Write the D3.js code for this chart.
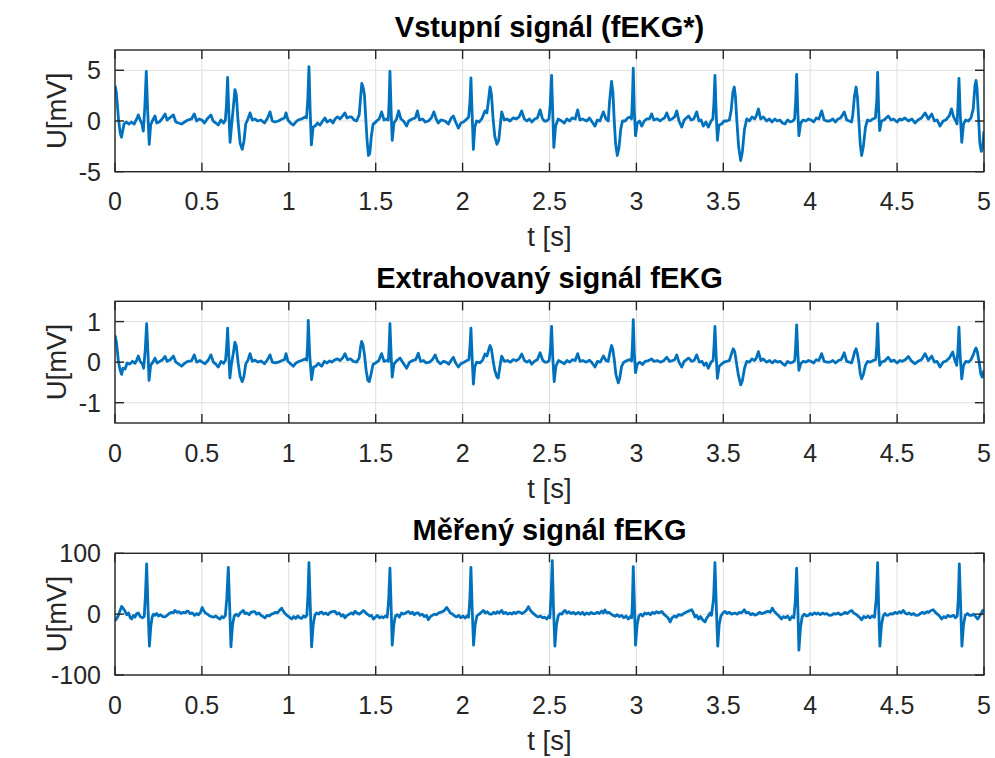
<!DOCTYPE html>
<html>
<head>
<meta charset="utf-8">
<script src="https://cdn.jsdelivr.net/npm/d3@7"></script>
<style>
  body { margin: 0; background: #fff; }
  text { font-family: "Liberation Sans", Arial, sans-serif; }
</style>
</head>
<body>
<svg id="chart" width="995" height="758"></svg>
<script>
// time axis (s)
var timeTicks = [0, 0.5, 1, 1.5, 2, 2.5, 3, 3.5, 4, 4.5, 5];

// input signal fEKG* [t (s), U (mV)]
var inputSignal = [
  [0, 3.5], [0.008, 2.8], [0.02, 0.2], [0.03, -1.2], [0.037, -1.6], [0.045, -0.9], [0.052, -0.3], [0.065, -0.1], [0.08, -0.3], [0.095, -0.1],
  [0.11, -0.3], [0.125, 0.2], [0.134, 0.6], [0.145, 0.1], [0.155, -0.3], [0.163, -1.0], [0.172, 1.5], [0.180, 4.9], [0.188, 1.0], [0.197, -2.3],
  [0.205, -0.4], [0.215, 0.0], [0.23, 0.5], [0.24, -0.2], [0.255, -0.1], [0.27, 0.2], [0.288, 0.7], [0.3, 0.1], [0.315, 0.3], [0.336, 0.6],
  [0.35, -0.1], [0.365, -0.2], [0.383, -0.3], [0.4, -0.1], [0.42, 0.1], [0.44, 0.2], [0.456, 0.7], [0.47, 0.0], [0.485, 0.2], [0.5, 0.1],
  [0.515, -0.2], [0.53, 0.2], [0.552, 0.6], [0.565, 0.0], [0.58, -0.2], [0.594, -0.4], [0.61, 0.1], [0.625, -0.2], [0.635, 0.1], [0.641, 1.5],
  [0.648, 4.3], [0.655, 0.8], [0.662, -2.1], [0.672, -0.2], [0.68, 1.2], [0.69, 3.1], [0.698, 2.6], [0.708, 0.0], [0.72, -2.2], [0.732, -2.8],
  [0.742, -2.0], [0.752, -0.3], [0.765, 0.2], [0.777, 0.8], [0.79, 0.1], [0.805, 0.2], [0.82, 0.0], [0.84, 0.1], [0.86, -0.2], [0.878, 0.3],
  [0.892, 0.9], [0.905, 0.0], [0.92, -0.1], [0.94, 0.0], [0.96, 0.2], [0.975, 0.3], [0.984, 0.8], [0.995, 0.1], [1.01, -0.2], [1.026, -0.4],
  [1.04, -0.1], [1.055, 0.1], [1.074, 0.2], [1.093, 0.4], [1.102, 0.3], [1.109, 2.0], [1.116, 5.35], [1.123, 1.0], [1.13, -2.35], [1.14, -0.6],
  [1.151, -0.5], [1.165, -0.2], [1.18, -0.4], [1.195, 0.0], [1.208, 0.3], [1.22, -0.1], [1.24, 0.1], [1.255, -0.2], [1.266, 0.2], [1.28, 0.4],
  [1.295, 0.2], [1.31, 0.5], [1.323, 0.8], [1.335, 0.3], [1.35, 0.4], [1.361, 0.4], [1.375, 0.1], [1.39, 0.0], [1.405, 0.6], [1.414, 2.5],
  [1.42, 3.7], [1.428, 3.3], [1.435, 2.6], [1.442, 0.5], [1.45, -1.8], [1.458, -3.4], [1.466, -3.2], [1.475, -1.5], [1.485, -0.3], [1.495, -0.2],
  [1.505, 0.0], [1.52, 0.2], [1.534, 0.9], [1.548, 0.1], [1.563, 0.2], [1.572, 0.1], [1.577, 1.8], [1.582, 4.9], [1.589, 0.8], [1.595, -1.9],
  [1.605, -0.2], [1.62, 0.2], [1.632, 1.0], [1.645, 0.2], [1.66, 0.0], [1.678, -0.5], [1.69, 0.0], [1.71, 0.2], [1.728, 0.3], [1.74, 1.0],
  [1.752, 0.1], [1.77, 0.2], [1.785, -0.1], [1.803, 0.0], [1.82, 0.3], [1.835, 0.9], [1.848, 0.2], [1.86, -0.2], [1.875, 0.1], [1.899, 0.0],
  [1.918, -0.3], [1.935, 0.3], [1.947, 0.5], [1.96, -0.1], [1.976, -0.7], [1.99, -0.2], [2.005, -0.1], [2.024, 0.2], [2.035, 0.4], [2.042, 1.8],
  [2.048, 4.25], [2.055, 0.6], [2.062, -2.8], [2.07, -0.6], [2.081, 0.0], [2.095, -0.1], [2.11, 0.2], [2.129, 1.0], [2.14, 0.8], [2.15, 2.2],
  [2.158, 3.35], [2.166, 2.6], [2.175, 0.3], [2.185, -1.5], [2.198, -2.3], [2.208, -1.9], [2.218, -0.2], [2.225, 0.9], [2.24, 0.1], [2.255, 0.2],
  [2.273, 0.0], [2.29, 0.3], [2.31, 0.2], [2.325, 0.4], [2.34, 1.0], [2.355, 0.2], [2.37, 0.0], [2.385, 0.2], [2.398, -0.1], [2.415, 0.2],
  [2.43, 0.3], [2.446, 1.1], [2.458, 0.3], [2.47, 0.0], [2.484, 0.0], [2.497, 0.2], [2.505, 1.8], [2.512, 4.5], [2.519, 0.6], [2.525, -2.6],
  [2.535, -0.5], [2.55, 0.2], [2.57, 0.0], [2.585, -0.2], [2.6, 0.2], [2.615, 0.0], [2.63, 0.3], [2.648, 0.2], [2.662, 1.1], [2.675, 0.1],
  [2.69, 0.2], [2.714, 0.0], [2.73, 0.3], [2.745, -0.1], [2.762, -0.5], [2.775, 0.1], [2.79, 0.0], [2.81, 0.9], [2.825, 0.2], [2.838, 0.0],
  [2.845, 1.8], [2.857, 3.9], [2.865, 2.8], [2.872, 0.2], [2.88, -2.2], [2.89, -3.4], [2.9, -2.6], [2.91, -0.8], [2.92, 0.0], [2.935, 0.0],
  [2.95, 0.3], [2.963, 0.4], [2.972, 0.2], [2.977, 2.2], [2.982, 5.2], [2.988, 1.0], [2.995, -1.45], [3.005, -0.2], [3.018, 0.0], [3.031, -0.5],
  [3.045, 0.0], [3.06, 0.2], [3.075, 0.2], [3.088, 0.7], [3.1, 0.1], [3.12, 0.2], [3.136, 0.0], [3.15, 0.2], [3.162, 0.3], [3.175, 0.8],
  [3.19, 0.1], [3.205, 0.2], [3.22, 0.4], [3.232, 1.0], [3.245, 0.0], [3.261, -0.6], [3.275, 0.1], [3.3, 0.5], [3.315, 0.1], [3.33, 0.2],
  [3.347, 0.9], [3.36, 0.0], [3.372, 0.1], [3.385, -0.5], [3.4, -0.1], [3.414, -0.6], [3.43, 0.0], [3.44, 0.2], [3.446, 1.8], [3.452, 4.5],
  [3.459, 0.8], [3.466, -1.9], [3.475, -0.4], [3.49, -0.3], [3.505, 0.0], [3.52, 0.0], [3.535, 0.1], [3.545, 1.0], [3.555, 2.8], [3.563, 3.35],
  [3.57, 2.4], [3.578, 0.0], [3.588, -2.5], [3.6, -3.9], [3.61, -3.0], [3.622, -0.8], [3.635, 0.2], [3.65, 0.0], [3.665, 0.4], [3.68, 0.2],
  [3.69, 0.5], [3.702, 1.2], [3.715, 0.2], [3.73, 0.4], [3.75, 0.0], [3.765, 0.2], [3.78, -0.1], [3.797, 0.2], [3.81, 0.0], [3.825, 0.1],
  [3.84, -0.2], [3.855, -0.3], [3.87, 0.1], [3.885, -0.1], [3.9, 0.0], [3.91, 0.2], [3.916, 1.8], [3.922, 4.6], [3.929, 0.8], [3.935, -1.45],
  [3.945, -0.2], [3.96, 0.1], [3.975, 0.0], [3.989, 0.2], [4.005, 0.1], [4.02, -0.1], [4.035, 0.3], [4.05, 0.2], [4.066, 1.0], [4.08, 0.1],
  [4.095, 0.0], [4.114, 0.0], [4.13, 0.2], [4.145, -0.1], [4.16, 0.2], [4.175, 0.3], [4.196, 0.9], [4.21, 0.1], [4.225, 0.0], [4.238, -0.1],
  [4.245, 0.6], [4.255, 2.5], [4.264, 3.35], [4.272, 2.3], [4.28, 0.0], [4.288, -2.3], [4.296, -3.4], [4.306, -2.5], [4.318, -0.6], [4.33, 0.1],
  [4.345, 0.0], [4.36, 0.2], [4.375, 0.3], [4.383, 2.0], [4.388, 4.8], [4.394, 1.0], [4.4, -0.95], [4.41, 0.0], [4.425, 0.1], [4.449, 0.5],
  [4.465, 0.1], [4.48, 0.2], [4.5, -0.1], [4.515, 0.2], [4.526, 0.1], [4.545, 0.3], [4.565, 0.0], [4.585, 0.2], [4.603, -0.2], [4.62, 0.1],
  [4.64, 0.3], [4.661, 0.8], [4.68, 0.2], [4.699, 0.7], [4.715, 0.0], [4.73, 0.1], [4.747, -0.5], [4.765, 0.0], [4.78, 0.1], [4.8, 0.5],
  [4.813, 1.2], [4.825, 0.4], [4.838, 0.0], [4.845, -0.3], [4.85, 1.5], [4.856, 4.2], [4.863, 0.8], [4.872, -2.1], [4.882, -0.3], [4.895, 0.1],
  [4.91, 0.0], [4.925, 0.3], [4.938, 1.2], [4.948, 3.5], [4.954, 4.0], [4.96, 3.2], [4.968, 0.5], [4.976, -2.2], [4.985, -3.0], [4.992, -2.6],
  [5.0, -1.0]
];

// extracted fEKG [t (s), U (mV)]
var extractedSignal = [
  [0, 0.66], [0.008, 0.5], [0.02, 0.0], [0.03, -0.2], [0.038, -0.3], [0.046, -0.15], [0.058, -0.17], [0.07, -0.02], [0.085, -0.05], [0.1, 0.02],
  [0.115, -0.03], [0.125, 0.05], [0.134, 0.15], [0.145, 0.02], [0.158, -0.05], [0.165, -0.15], [0.174, 0.3], [0.182, 0.95], [0.19, 0.2], [0.196, -0.45],
  [0.205, -0.08], [0.218, 0.0], [0.23, 0.1], [0.242, -0.02], [0.258, 0.02], [0.272, 0.05], [0.288, 0.14], [0.3, 0.02], [0.318, 0.06], [0.336, 0.15],
  [0.35, 0.0], [0.367, -0.05], [0.383, -0.1], [0.4, -0.03], [0.418, 0.02], [0.44, 0.03], [0.456, 0.18], [0.47, 0.0], [0.488, 0.04], [0.502, 0.0],
  [0.518, -0.04], [0.535, 0.04], [0.552, 0.18], [0.566, 0.0], [0.58, -0.05], [0.594, -0.12], [0.61, 0.02], [0.625, -0.03], [0.636, 0.05], [0.642, 0.35],
  [0.648, 0.84], [0.655, 0.15], [0.661, -0.39], [0.67, -0.05], [0.68, 0.2], [0.69, 0.49], [0.698, 0.4], [0.708, 0.0], [0.72, -0.35], [0.732, -0.48],
  [0.742, -0.35], [0.752, -0.05], [0.765, 0.05], [0.777, 0.21], [0.79, 0.02], [0.805, 0.05], [0.822, 0.0], [0.84, 0.03], [0.86, -0.04], [0.877, 0.06],
  [0.892, 0.18], [0.905, 0.0], [0.922, -0.02], [0.94, 0.0], [0.96, 0.04], [0.975, 0.06], [0.984, 0.21], [0.995, 0.02], [1.01, -0.04], [1.026, -0.1],
  [1.042, -0.02], [1.058, 0.02], [1.074, 0.04], [1.093, 0.08], [1.103, 0.05], [1.108, 0.4], [1.112, 1.03], [1.12, 0.2], [1.131, -0.43], [1.142, -0.12],
  [1.155, -0.1], [1.17, -0.03], [1.189, -0.1], [1.205, 0.02], [1.22, -0.02], [1.235, 0.03], [1.247, 0.0], [1.262, 0.05], [1.28, 0.08], [1.295, 0.04],
  [1.31, 0.1], [1.323, 0.21], [1.338, 0.06], [1.355, 0.08], [1.372, 0.02], [1.39, 0.0], [1.405, 0.1], [1.413, 0.38], [1.419, 0.51], [1.427, 0.42],
  [1.435, 0.2], [1.445, -0.2], [1.455, -0.45], [1.463, -0.48], [1.473, -0.3], [1.485, -0.05], [1.5, -0.02], [1.518, 0.04], [1.534, 0.21], [1.548, 0.02],
  [1.563, 0.04], [1.573, 0.02], [1.577, 0.35], [1.582, 0.95], [1.589, 0.15], [1.595, -0.37], [1.605, -0.05], [1.62, 0.03], [1.64, 0.1], [1.655, 0.0],
  [1.678, -0.15], [1.695, 0.0], [1.712, 0.04], [1.73, 0.06], [1.745, 0.22], [1.758, 0.02], [1.775, 0.04], [1.79, -0.02], [1.81, 0.0], [1.826, 0.06],
  [1.842, 0.18], [1.856, 0.03], [1.872, -0.04], [1.89, 0.02], [1.905, 0.0], [1.92, -0.05], [1.935, 0.05], [1.947, 0.12], [1.96, -0.02], [1.976, -0.12],
  [1.99, -0.04], [2.008, 0.0], [2.025, 0.04], [2.036, 0.06], [2.042, 0.35], [2.048, 0.84], [2.055, 0.1], [2.062, -0.54], [2.07, -0.12], [2.081, 0.0],
  [2.1, -0.02], [2.115, 0.05], [2.129, 0.2], [2.14, 0.15], [2.15, 0.3], [2.158, 0.41], [2.166, 0.32], [2.175, 0.05], [2.185, -0.2], [2.198, -0.37],
  [2.205, -0.39], [2.215, -0.1], [2.225, 0.15], [2.24, 0.02], [2.258, 0.04], [2.275, 0.0], [2.29, 0.06], [2.31, 0.04], [2.325, 0.08], [2.34, 0.2],
  [2.356, 0.04], [2.37, 0.0], [2.385, 0.04], [2.398, -0.05], [2.415, 0.03], [2.43, 0.06], [2.446, 0.23], [2.46, 0.06], [2.472, 0.0], [2.486, 0.0],
  [2.498, 0.04], [2.506, 0.35], [2.512, 0.88], [2.519, 0.1], [2.527, -0.48], [2.537, -0.1], [2.552, 0.04], [2.57, 0.0], [2.585, -0.04], [2.6, 0.04],
  [2.616, 0.0], [2.632, 0.06], [2.648, 0.04], [2.662, 0.21], [2.676, 0.02], [2.692, 0.04], [2.712, 0.0], [2.73, 0.05], [2.745, -0.02], [2.762, -0.12],
  [2.776, 0.02], [2.792, 0.0], [2.81, 0.15], [2.825, 0.04], [2.838, 0.02], [2.848, 0.25], [2.857, 0.41], [2.865, 0.3], [2.873, 0.05], [2.882, -0.3],
  [2.896, -0.51], [2.905, -0.38], [2.915, -0.1], [2.928, 0.0], [2.945, 0.04], [2.962, 0.06], [2.972, 0.03], [2.977, 0.4], [2.982, 1.05], [2.988, 0.2],
  [2.995, -0.26], [3.005, -0.05], [3.02, 0.0], [3.035, -0.06], [3.05, 0.02], [3.07, 0.04], [3.088, 0.08], [3.1, 0.02], [3.12, 0.04], [3.14, 0.0],
  [3.158, 0.04], [3.175, 0.12], [3.19, 0.02], [3.208, 0.04], [3.22, 0.06], [3.232, 0.18], [3.245, 0.0], [3.261, -0.12], [3.275, 0.02], [3.3, 0.1],
  [3.318, 0.02], [3.332, 0.04], [3.347, 0.18], [3.362, 0.0], [3.378, 0.02], [3.39, -0.08], [3.402, -0.02], [3.414, -0.15], [3.43, 0.0], [3.441, 0.04],
  [3.446, 0.35], [3.452, 0.88], [3.459, 0.15], [3.466, -0.4], [3.476, -0.1], [3.49, -0.05], [3.505, 0.0], [3.52, 0.02], [3.535, 0.04], [3.545, 0.18],
  [3.557, 0.33], [3.566, 0.26], [3.575, 0.0], [3.586, -0.3], [3.6, -0.56], [3.61, -0.45], [3.622, -0.15], [3.635, 0.02], [3.65, 0.0], [3.665, 0.08],
  [3.68, 0.04], [3.69, 0.1], [3.702, 0.26], [3.716, 0.04], [3.73, 0.08], [3.75, 0.0], [3.766, 0.04], [3.782, -0.02], [3.797, 0.04], [3.812, 0.0],
  [3.827, 0.02], [3.842, -0.04], [3.855, -0.08], [3.87, 0.02], [3.886, -0.02], [3.9, 0.0], [3.911, 0.04], [3.916, 0.35], [3.922, 0.92], [3.929, 0.2],
  [3.935, -0.2], [3.945, -0.04], [3.96, 0.02], [3.975, 0.0], [3.99, 0.04], [4.005, 0.02], [4.02, -0.02], [4.035, 0.06], [4.05, 0.04], [4.066, 0.21],
  [4.08, 0.02], [4.096, 0.0], [4.114, 0.0], [4.13, 0.04], [4.146, -0.02], [4.162, 0.04], [4.178, 0.06], [4.196, 0.23], [4.21, 0.02], [4.225, 0.0],
  [4.238, -0.02], [4.248, 0.12], [4.256, 0.26], [4.264, 0.33], [4.272, 0.2], [4.28, 0.0], [4.288, -0.28], [4.296, -0.41], [4.306, -0.3], [4.318, -0.08],
  [4.33, 0.02], [4.346, 0.0], [4.362, 0.04], [4.377, 0.06], [4.383, 0.4], [4.388, 0.95], [4.394, 0.25], [4.4, -0.08], [4.41, 0.0], [4.428, 0.03],
  [4.449, 0.12], [4.465, 0.02], [4.482, 0.05], [4.5, -0.02], [4.516, 0.04], [4.53, 0.02], [4.547, 0.06], [4.565, 0.14], [4.582, 0.03], [4.603, -0.04],
  [4.62, 0.02], [4.64, 0.06], [4.661, 0.21], [4.68, 0.04], [4.699, 0.15], [4.715, 0.0], [4.73, 0.02], [4.747, -0.12], [4.765, 0.0], [4.782, 0.03],
  [4.8, 0.1], [4.82, 0.25], [4.832, 0.05], [4.843, -0.08], [4.85, 0.3], [4.856, 0.86], [4.863, 0.15], [4.872, -0.41], [4.882, -0.08], [4.895, 0.02],
  [4.91, 0.0], [4.925, 0.06], [4.938, 0.18], [4.948, 0.3], [4.954, 0.35], [4.962, 0.25], [4.972, 0.0], [4.982, -0.3], [4.99, -0.37], [5.0, -0.2]
];

// measured fEKG [t (s), U (mV)]
var measuredSignal = [
  [0, -11], [0.008, -8], [0.018, -3], [0.028, 5], [0.038, 12.7], [0.046, 10], [0.058, 4.6], [0.068, -1], [0.078, 2], [0.088, -6],
  [0.096, -8], [0.106, -2], [0.115, -5], [0.125, 1], [0.134, 2], [0.145, -4], [0.158, -6], [0.168, -4], [0.175, 30], [0.182, 82.5],
  [0.19, 10], [0.198, -52.6], [0.206, -20], [0.214, -4], [0.222, 0], [0.23, -2], [0.24, 1], [0.25, -3], [0.262, -1], [0.275, -4],
  [0.288, -4.6], [0.3, -2], [0.312, 1], [0.325, 3], [0.335, 2], [0.345, 6.2], [0.356, 3], [0.368, 4], [0.38, 1], [0.392, 3],
  [0.405, 2], [0.414, 5], [0.422, 4.6], [0.432, 1], [0.445, 2], [0.458, -2], [0.47, 1], [0.48, -1], [0.492, 3], [0.502, 11],
  [0.51, 6], [0.52, 2], [0.532, 0], [0.545, -3], [0.556, -4], [0.568, -5], [0.58, -3], [0.592, -6], [0.604, -8], [0.615, -4],
  [0.625, -6], [0.635, -2], [0.643, 25], [0.652, 77], [0.66, 10], [0.667, -53.7], [0.676, -18], [0.686, -3], [0.698, 0], [0.709, -3],
  [0.72, 2], [0.73, 4], [0.738, 6.2], [0.748, 1], [0.76, 2], [0.772, -1], [0.782, 3], [0.795, 4], [0.805, 4], [0.815, 0],
  [0.828, 2], [0.84, -2], [0.852, -4], [0.863, -6.3], [0.875, -2], [0.888, -3], [0.9, 0], [0.911, 1], [0.922, 3], [0.935, 2],
  [0.946, 6], [0.959, 9.9], [0.968, 5], [0.978, 1], [0.99, -2], [1.003, -5], [1.016, -8], [1.028, -4], [1.04, -7], [1.052, -3],
  [1.063, -6], [1.074, -7], [1.085, -3], [1.095, -5], [1.104, -2], [1.11, 30], [1.116, 84.6], [1.124, 10], [1.131, -53.7], [1.14, -18],
  [1.15, -2], [1.16, 2], [1.172, 0], [1.18, 3], [1.189, 3.5], [1.2, 0], [1.212, 2], [1.225, -1], [1.238, 3], [1.25, 4],
  [1.266, 4.6], [1.278, 0], [1.29, 2], [1.302, -3], [1.313, -1], [1.323, -6], [1.335, -2], [1.348, 0], [1.36, 2], [1.37, 0],
  [1.381, 4.6], [1.392, 2], [1.405, 0], [1.418, 3], [1.429, 6.2], [1.44, 3], [1.452, 0], [1.465, -3], [1.476, -2], [1.487, -8],
  [1.498, -5], [1.51, -2], [1.522, -6], [1.533, -4], [1.544, -6], [1.556, -3], [1.566, -5], [1.574, 20], [1.582, 75.4], [1.589, 10],
  [1.595, -51], [1.604, -18], [1.613, -3], [1.625, -1], [1.636, -5], [1.649, 1.9], [1.66, 0], [1.672, 2], [1.688, 4.6], [1.7, 1],
  [1.712, 3], [1.722, -1], [1.733, 2], [1.745, 1.9], [1.756, -2], [1.768, 0], [1.78, -4], [1.792, -2], [1.803, -9.1], [1.815, -4],
  [1.826, -2], [1.838, 0], [1.85, -1], [1.861, 1.9], [1.872, 3], [1.884, 4], [1.895, 6], [1.909, 11], [1.918, 7], [1.93, 2],
  [1.942, 0], [1.954, -3], [1.966, -4.6], [1.978, -2], [1.99, -6], [2.002, -3], [2.014, -6.3], [2.025, -3], [2.034, -5], [2.041, 20],
  [2.048, 77], [2.055, 10], [2.063, -51], [2.072, -18], [2.082, -3], [2.095, 0], [2.108, 3], [2.119, 6.2], [2.13, 2], [2.142, 4],
  [2.155, 0], [2.167, 0], [2.178, 3], [2.19, 1], [2.2, 4], [2.212, 2], [2.225, 6.2], [2.236, 1], [2.248, 3], [2.26, 0],
  [2.272, 2], [2.283, 0], [2.295, 3], [2.307, 1], [2.319, 4], [2.331, 2.9], [2.342, 1], [2.355, 3], [2.366, 6], [2.379, 12.3],
  [2.39, 6], [2.4, 3], [2.412, 0], [2.424, -3], [2.436, -4.6], [2.448, -3], [2.46, -6], [2.472, -5], [2.484, -8], [2.494, -4],
  [2.502, -6], [2.509, 30], [2.516, 87.9], [2.523, 10], [2.531, -52.6], [2.54, -18], [2.55, -3], [2.56, 1], [2.572, 0], [2.58, 4],
  [2.589, 6.2], [2.6, 2], [2.612, 4], [2.625, 1], [2.638, 3], [2.65, 0], [2.666, 2.9], [2.678, 0], [2.69, 3], [2.702, -1],
  [2.715, 2], [2.728, 0], [2.74, 3], [2.75, 1], [2.762, 0.9], [2.775, 3], [2.787, 1], [2.8, 5], [2.81, 2], [2.819, 6.8],
  [2.83, 2], [2.842, 3], [2.855, 0], [2.866, -2], [2.877, -3.4], [2.89, -1], [2.902, -4], [2.915, -2], [2.928, -6], [2.94, -3],
  [2.954, -8], [2.965, -4], [2.973, -6], [2.977, 20], [2.982, 78.1], [2.989, 10], [2.995, -51], [3.004, -18], [3.014, -3], [3.025, 0],
  [3.036, -3], [3.048, 2], [3.058, 0], [3.069, 1.9], [3.08, -1], [3.092, 3], [3.104, 1], [3.115, 4], [3.126, 2], [3.136, 3],
  [3.146, 4.6], [3.158, 0], [3.17, -3], [3.182, -6], [3.194, -12.8], [3.205, -6], [3.218, -3], [3.23, -5], [3.242, -1], [3.261, -1.7],
  [3.272, 1], [3.285, 3], [3.3, 5], [3.318, 7.3], [3.328, 2], [3.337, -4.6], [3.347, -2], [3.357, -8], [3.368, -4], [3.38, -9],
  [3.395, -12.8], [3.405, -6], [3.414, -3], [3.424, 1.9], [3.432, -2], [3.444, 25], [3.452, 84.6], [3.46, 10], [3.468, -52.6], [3.476, -18],
  [3.486, -3], [3.498, 2], [3.51, 4.6], [3.522, 1], [3.535, 3], [3.548, 0], [3.567, 1.9], [3.58, 0], [3.592, 3], [3.605, 2],
  [3.621, 7.3], [3.632, 2], [3.645, 3], [3.658, -1], [3.67, 1], [3.682, -1.7], [3.695, 0], [3.708, 3], [3.72, 1], [3.735, 2],
  [3.748, 4], [3.759, 4.6], [3.77, 3], [3.782, 9.9], [3.792, 5], [3.805, 1], [3.82, -3], [3.835, -8], [3.845, -4], [3.858, -6],
  [3.87, -3], [3.883, -9.1], [3.895, -4], [3.906, -6], [3.914, 20], [3.922, 75.4], [3.929, 10], [3.935, -59.1], [3.944, -22], [3.954, -4],
  [3.966, 0], [3.978, -3], [3.989, -2], [4.0, 1], [4.012, -1], [4.025, 2], [4.036, 0], [4.046, 1.9], [4.058, -1], [4.07, 2],
  [4.082, 0], [4.095, 1], [4.11, -2], [4.123, -1.7], [4.135, 1], [4.148, 0], [4.16, 2], [4.175, -1], [4.19, 0.6], [4.2, 3],
  [4.212, 1], [4.225, 4], [4.238, 6.2], [4.25, 2], [4.262, 0], [4.275, -3], [4.286, -6], [4.296, -9.1], [4.308, -4], [4.32, -6],
  [4.332, -3], [4.344, -6.3], [4.356, -3], [4.37, -5], [4.38, 25], [4.388, 84.6], [4.394, 10], [4.401, -52.6], [4.41, -18], [4.42, -3],
  [4.43, 1], [4.44, -2], [4.449, -1.7], [4.462, 1], [4.475, 0], [4.488, 3], [4.5, 1], [4.512, 4], [4.523, 2], [4.535, 6.2],
  [4.546, 2], [4.558, 0], [4.57, 2], [4.582, -1], [4.595, 1], [4.608, -2], [4.622, -1.7], [4.634, 1], [4.646, 3], [4.658, 1],
  [4.67, 4], [4.682, 3], [4.695, 6], [4.708, 7.3], [4.72, 3], [4.732, 0], [4.744, -3], [4.756, -8], [4.768, -4], [4.78, -6],
  [4.792, -2], [4.804, -4], [4.814, -3.4], [4.825, -2], [4.836, -6], [4.846, -3], [4.852, 25], [4.858, 82.5], [4.866, 10], [4.873, -52.6],
  [4.882, -18], [4.892, -2], [4.905, 1], [4.917, -2], [4.929, -2.1], [4.94, 0], [4.952, -4], [4.964, -8], [4.975, -3], [4.985, 2],
  [4.993, 6.2], [5.0, 3.5]
];

var titles = ["Vstupní signál (fEKG*)", "Extrahovaný signál fEKG", "Měřený signál fEKG"];
var yDomains = [[-5, 7], [-1.5, 1.5], [-100, 100]];
var yTicks = [[-5, 0, 5], [-1, 0, 1], [-100, 0, 100]];
var signals = [inputSignal, extractedSignal, measuredSignal];

var svg = d3.select("#chart");
var left = 115, right = 984;
var tops = [50, 301.3, 553.3];
var plotH = 121.7;
var tickLen = 9;
var axisColor = "#262626";

var x = d3.scaleLinear().domain([0, 5]).range([left, right]);

signals.forEach(function (data, i) {
    var top = tops[i], bottom = top + plotH;
    var y = d3.scaleLinear().domain(yDomains[i]).range([bottom, top]);
    var g = svg.append("g");

    // grid
    g.selectAll("line.gx").data(timeTicks).enter().append("line")
        .attr("x1", function (d) { return x(d); }).attr("x2", function (d) { return x(d); })
        .attr("y1", top).attr("y2", bottom)
        .attr("stroke", "#dfdfdf").attr("stroke-width", 1);
    g.selectAll("line.gy").data(yTicks[i]).enter().append("line")
        .attr("x1", left).attr("x2", right)
        .attr("y1", function (d) { return y(d); }).attr("y2", function (d) { return y(d); })
        .attr("stroke", "#dfdfdf").attr("stroke-width", 1);

    // signal
    var clipId = "clip" + i;
    svg.append("clipPath").attr("id", clipId).append("rect")
        .attr("x", left).attr("y", top).attr("width", right - left).attr("height", plotH);
    g.append("path")
        .datum(data)
        .attr("clip-path", "url(#" + clipId + ")")
        .attr("fill", "none")
        .attr("stroke", "#0072BD")
        .attr("stroke-width", 2.8)
        .attr("stroke-linejoin", "round")
        .attr("d", d3.line()
            .x(function (d) { return x(d[0]); })
            .y(function (d) { return y(d[1]); }));

    // box
    g.append("rect")
        .attr("x", left).attr("y", top).attr("width", right - left).attr("height", plotH)
        .attr("fill", "none").attr("stroke", axisColor).attr("stroke-width", 1.4);

    // inward ticks on all four sides
    timeTicks.forEach(function (t) {
        g.append("line").attr("x1", x(t)).attr("x2", x(t)).attr("y1", bottom).attr("y2", bottom - tickLen)
            .attr("stroke", axisColor).attr("stroke-width", 1.4);
        g.append("line").attr("x1", x(t)).attr("x2", x(t)).attr("y1", top).attr("y2", top + tickLen)
            .attr("stroke", axisColor).attr("stroke-width", 1.4);
    });
    yTicks[i].forEach(function (v) {
        g.append("line").attr("x1", left).attr("x2", left + tickLen).attr("y1", y(v)).attr("y2", y(v))
            .attr("stroke", axisColor).attr("stroke-width", 1.4);
        g.append("line").attr("x1", right).attr("x2", right - tickLen).attr("y1", y(v)).attr("y2", y(v))
            .attr("stroke", axisColor).attr("stroke-width", 1.4);
    });

    // tick labels
    g.selectAll("text.xt").data(timeTicks).enter().append("text")
        .attr("x", function (d) { return x(d); })
        .attr("y", bottom + 38.5)
        .attr("text-anchor", "middle")
        .attr("font-size", 25)
        .attr("fill", axisColor)
        .text(function (d) { return String(d); });
    g.selectAll("text.yt").data(yTicks[i]).enter().append("text")
        .attr("x", left - 14)
        .attr("y", function (d) { return y(d); })
        .attr("dy", "0.36em")
        .attr("text-anchor", "end")
        .attr("font-size", 25)
        .attr("fill", axisColor)
        .text(function (d) { return String(d); });

    // labels and title
    g.append("text")
        .attr("x", (left + right) / 2).attr("y", bottom + 74.5)
        .attr("text-anchor", "middle").attr("font-size", 27.5).attr("fill", axisColor)
        .text("t [s]");
    g.append("text")
        .attr("transform", "translate(66," + (top + plotH / 2) + ") rotate(-90)")
        .attr("text-anchor", "middle").attr("font-size", 27.5).attr("fill", axisColor)
        .text("U[mV]");
    g.append("text")
        .attr("x", (left + right) / 2).attr("y", top - 13.3)
        .attr("text-anchor", "middle").attr("font-size", 29).attr("font-weight", "bold").attr("fill", "#000")
        .text(titles[i]);
});
</script>
</body>
</html>
